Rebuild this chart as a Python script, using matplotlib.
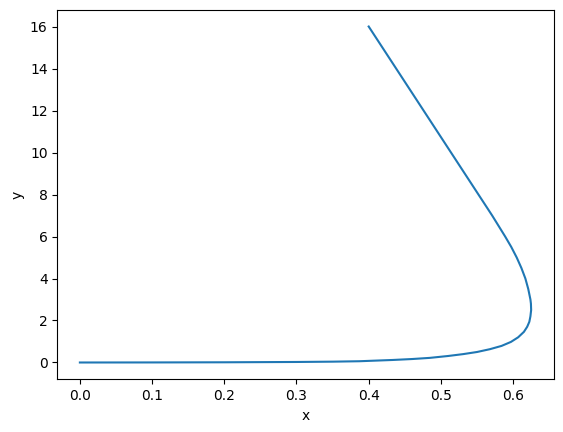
import matplotlib
matplotlib.use('Agg')
import matplotlib.pyplot as plt

x = [0.0, 0.1, 0.2, 0.3, 0.35, 0.387, 0.433, 0.46, 0.4846, 0.51, 0.531, 0.55,
     0.568, 0.584, 0.597, 0.607, 0.615, 0.6195, 0.6225, 0.624, 0.625, 0.6247,
     0.624, 0.621, 0.617, 0.6115, 0.605, 0.5975, 0.589, 0.58, 0.571,
     0.5615, 0.552, 0.533, 0.514, 0.495, 0.476, 0.457, 0.438, 0.419, 0.4]
y = [0.0, 0.003, 0.01, 0.025, 0.04, 0.06, 0.12, 0.165, 0.22, 0.31, 0.4, 0.5,
     0.635, 0.79, 0.98, 1.2, 1.46, 1.7, 1.94, 2.2, 2.5, 2.8,
     3.0, 3.5, 4.0, 4.5, 5.0, 5.5, 6.0, 6.5, 7.0,
     7.5, 8.0, 9.0, 10.0, 11.0, 12.0, 13.0, 14.0, 15.0, 16.0]

plt.figure(figsize=(5.63, 4.32), dpi=100)
plt.subplots_adjust(left=0.1018, right=0.9835, top=0.9775, bottom=0.122)
plt.plot(x, y)
plt.xlabel('x')
plt.ylabel('y')
plt.savefig('out.png')
